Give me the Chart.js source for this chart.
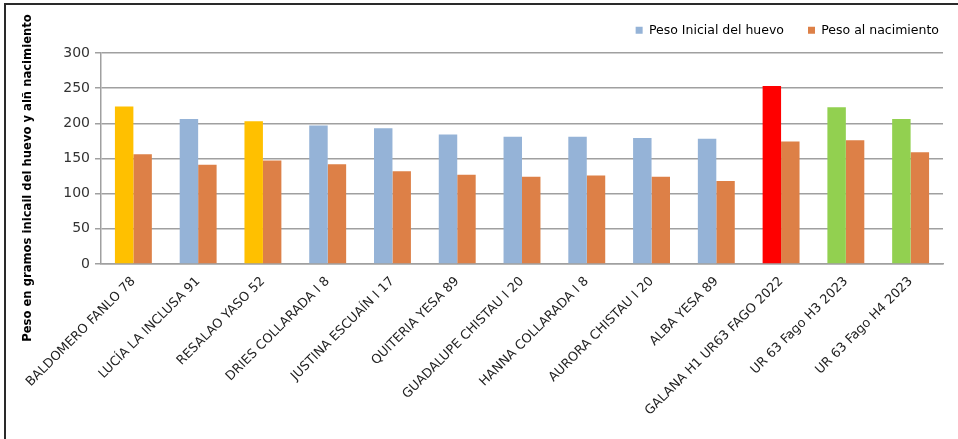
<!DOCTYPE html>
<html>
<head>
<meta charset="utf-8">
<script src="https://cdn.jsdelivr.net/npm/chart.js@4.4.1/dist/chart.umd.min.js"></script>
<style>
html,body{margin:0;padding:0;background:#fff;}
#wrap{position:relative;width:958px;height:439px;overflow:hidden;}
#frame{position:absolute;left:4px;top:3px;width:960px;height:440px;border-left:2px solid #2a2a2a;border-top:2px solid #2a2a2a;box-sizing:border-box;pointer-events:none;}
canvas{position:absolute;left:0;top:0;}
</style>
</head>
<body>
<div id="wrap">
<canvas id="c" width="958" height="439"></canvas>
<div id="frame"></div>
</div>
<script>
const categories = [
  "BALDOMERO FANLO 78","LUCÍA LA INCLUSA 91","RESALAO YASO 52","DRIES COLLARADA I 8",
  "JUSTINA ESCUAÍN I 17","QUITERIA YESA 89","GUADALUPE CHISTAU I 20","HANNA COLLARADA I 8",
  "AURORA CHISTAU I 20","ALBA YESA 89","GALANA H1 UR63 FAGO 2022","UR 63 Fago H3 2023","UR 63 Fago H4 2023"
];
const seriesNames = ["Peso Inicial del huevo","Peso al nacimiento"];
const pesoInicial = [224,206,203,197,193,184,181,181,179,178,253,223,206];
const pesoNacimiento = [156,141,147,142,132,127,124,126,124,118,174,176,159];
const inicialColors = ["#FFC000","#95B3D7","#FFC000","#95B3D7","#95B3D7","#95B3D7","#95B3D7","#95B3D7","#95B3D7","#95B3D7","#FF0000","#92D050","#92D050"];
const legendColors = ["#95B3D7","#DD8047"];
const yTicks = [0,50,100,150,200,250,300];
const yTitle = "Peso en gramos inicail del huevo y alñ nacimiento";

const yTitlePlugin = {
  id:'yTitle',
  beforeLayout(chart){
    const lg = chart.legend;
    if (lg && !lg._patched) {
      const orig = lg.fit.bind(lg);
      lg.fit = function(){ orig(); this.height = 53; };
      lg._patched = true;
    }
  },
  afterLayout(chart){
    const lg = chart.legend;
    if (lg) { lg.left += 20; lg.right += 20; }
  },
  afterDraw(chart){
    const ctx = chart.ctx;
    ctx.save();
    ctx.translate(28, 178);
    ctx.rotate(-Math.PI/2);
    ctx.font = 'bold 11.6px "DejaVu Sans"';
    ctx.fillStyle = '#000';
    ctx.textAlign = 'center';
    ctx.textBaseline = 'middle';
    ctx.fillText(yTitle, 0, 0);
    ctx.restore();
  }
};

new Chart(document.getElementById('c'), {
  type:'bar',
  data:{
    labels: categories,
    datasets:[
      {label: seriesNames[0], data: pesoInicial, backgroundColor: inicialColors, borderWidth:0},
      {label: seriesNames[1], data: pesoNacimiento, backgroundColor: legendColors[1], borderWidth:0}
    ]
  },
  options:{
    responsive:false,
    animation:false,
    devicePixelRatio:1,
    layout:{padding:{left:41,right:15,top:0,bottom:0}},
    datasets:{bar:{categoryPercentage:0.57,barPercentage:1}},
    plugins:{
      tooltip:{enabled:false},
      legend:{
        position:'top', align:'end',
        labels:{
          boxWidth:7, boxHeight:7, padding:24,
          color:'#222', font:{family:'"DejaVu Sans"', size:12.5},
          generateLabels(chart){
            return seriesNames.map((n,i)=>({text:n, fillStyle:legendColors[i], strokeStyle:legendColors[i], lineWidth:0, datasetIndex:i, hidden:false}));
          }
        }
      }
    },
    scales:{
      x:{
        grid:{display:false, drawTicks:false},
        border:{display:true,color:'#A0A0A0',width:1.5},
        ticks:{minRotation:45,maxRotation:45,color:'#222',padding:10,autoSkip:false,font:{family:'"DejaVu Sans"',size:12.8}},
        afterFit(s){ s.height = 175; }
      },
      y:{
        min:0,max:300,
        afterBuildTicks(s){ s.ticks = yTicks.map(v=>({value:v})); },
        grid:{color:'#A0A0A0',lineWidth:1.5,tickLength:6},
        border:{display:true,color:'#A0A0A0',width:1.5},
        ticks:{color:'#333',padding:5,font:{family:'"DejaVu Sans"',size:14}},
        afterFit(s){ s.width = 60; }
      }
    }
  },
  plugins:[yTitlePlugin]
});
</script>
</body>
</html>
